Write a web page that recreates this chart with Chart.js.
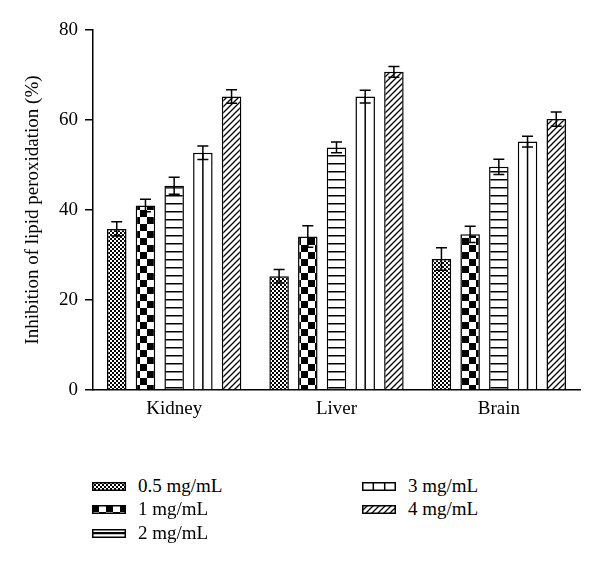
<!DOCTYPE html>
<html>
<head>
<meta charset="utf-8">
<title>Inhibition of lipid peroxidation</title>
<script src="https://cdn.jsdelivr.net/npm/chart.js@4.4.0/dist/chart.umd.min.js"></script>
<style>
  html, body { margin: 0; padding: 0; background: #fff; }
  #wrap { position: relative; width: 600px; height: 568px; font-family: 'Liberation Serif', 'DejaVu Serif', serif; }
  #chart { position: absolute; left: 0; top: 0; }
  .leg { position: absolute; display: flex; align-items: center; height: 24px; font-size: 19px; color: #000; white-space: nowrap; }
  .leg canvas { display: block; }
</style>
</head>
<body>
<div id="wrap">
  <canvas id="chart" width="600" height="440"></canvas>
</div>
<script>
// Data
const organs = ['Kidney', 'Liver', 'Brain'];
const doseLabels = ['0.5 mg/mL', '1 mg/mL', '2 mg/mL', '3 mg/mL', '4 mg/mL'];

const dose05 = [35.8, 25.3, 29.1];
const dose1 = [41.0, 34.1, 34.6];
const dose2 = [45.4, 53.9, 49.6];
const dose3 = [52.7, 65.2, 55.2];
const dose4 = [65.2, 70.7, 60.2];

const err05 = [1.6, 1.5, 2.5];
const err1 = [1.4, 2.4, 1.8];
const err2 = [1.9, 1.2, 1.7];
const err3 = [1.5, 1.4, 1.2];
const err4 = [1.5, 1.2, 1.6];

const yTicks = [0, 20, 40, 60, 80];

// Fill patterns (black & white hatching)
function makePattern(w, h, draw) {
  const c = document.createElement('canvas');
  c.width = w; c.height = h;
  const g = c.getContext('2d');
  g.fillStyle = '#fff';
  g.fillRect(0, 0, w, h);
  g.fillStyle = '#000';
  g.strokeStyle = '#000';
  draw(g, w, h);
  return g.createPattern(c, 'repeat');
}

const patterns = [
  makePattern(4, 4, g => { g.fillRect(0, 0, 2, 2); g.fillRect(2, 2, 2, 2); }),
  makePattern(14, 14, g => { g.fillRect(0, 0, 7, 7); g.fillRect(7, 7, 7, 7); }),
  makePattern(8, 8, g => { g.fillRect(0, 3, 8, 1.5); }),
  '#fff',
  makePattern(6, 6, g => {
    g.lineWidth = 1.3;
    g.beginPath();
    g.moveTo(0, 6); g.lineTo(6, 0);
    g.moveTo(-1, 1); g.lineTo(1, -1);
    g.moveTo(5, 7); g.lineTo(7, 5);
    g.stroke();
  })
];

const series = [dose05, dose1, dose2, dose3, dose4];
const errors = [err05, err1, err2, err3, err4];

// Error bars + the centre line of the 3 mg/mL bars
const errorBars = {
  id: 'errorBars',
  afterDatasetsDraw(chart) {
    const ctx = chart.ctx;
    const y = chart.scales.y;
    ctx.save();
    ctx.strokeStyle = '#000';
    ctx.lineWidth = 1.5;
    chart.data.datasets.forEach((ds, di) => {
      const meta = chart.getDatasetMeta(di);
      meta.data.forEach((bar, i) => {
        if (ds.midLine) {
          ctx.beginPath();
          ctx.moveTo(bar.x, bar.base);
          ctx.lineTo(bar.x, bar.y);
          ctx.stroke();
        }
        const hi = y.getPixelForValue(ds.data[i] + ds.errors[i]);
        const lo = y.getPixelForValue(ds.data[i] - ds.errors[i]);
        const cap = 5.5;
        ctx.beginPath();
        ctx.moveTo(bar.x, hi); ctx.lineTo(bar.x, lo);
        ctx.moveTo(bar.x - cap, hi); ctx.lineTo(bar.x + cap, hi);
        ctx.moveTo(bar.x - cap, lo); ctx.lineTo(bar.x + cap, lo);
        ctx.stroke();
      });
    });
    ctx.restore();
  }
};

const serif = "'Liberation Serif', 'DejaVu Serif', serif";

new Chart(document.getElementById('chart'), {
  type: 'bar',
  data: {
    labels: organs,
    datasets: series.map((vals, i) => ({
      label: doseLabels[i],
      data: vals,
      errors: errors[i],
      midLine: i === 3,
      backgroundColor: patterns[i],
      borderColor: '#000',
      borderWidth: 1.5,
      barPercentage: 0.68,
      categoryPercentage: 0.884
    }))
  },
  options: {
    responsive: false,
    animation: false,
    layout: { padding: { left: 0, right: 20, top: 30, bottom: 0 } },
    plugins: {
      legend: { display: false },
      tooltip: { enabled: false }
    },
    scales: {
      x: {
        grid: { display: false },
        border: { display: true, color: '#000', width: 1.5 },
        ticks: { color: '#000', padding: 0, font: { family: serif, size: 19 } },
        afterFit: s => { s.height = 50; }
      },
      y: {
        min: 0,
        max: 80,
        afterBuildTicks: s => { s.ticks = yTicks.map(v => ({ value: v })); },
        grid: { drawOnChartArea: false, drawTicks: true, tickLength: 8, color: '#000', lineWidth: 1.5 },
        border: { display: true, color: '#000', width: 1.5 },
        ticks: { color: '#000', padding: 7, font: { family: serif, size: 19 } },
        title: {
          display: true,
          text: 'Inhibition of lipid peroxidation (%)',
          color: '#000',
          font: { family: serif, size: 19 },
          padding: { top: 22, bottom: 0 }
        },
        afterFit: s => { s.width = 93; }
      }
    }
  },
  plugins: [errorBars]
});

// Two-column legend below the chart
const legendSpots = [
  { left: 92, top: 486 }, { left: 92, top: 509 }, { left: 92, top: 533 },
  { left: 362, top: 486 }, { left: 362, top: 509 }
];
const wrap = document.getElementById('wrap');
doseLabels.forEach((lab, i) => {
  const item = document.createElement('div');
  item.className = 'leg';
  item.style.left = legendSpots[i].left + 'px';
  item.style.top = (legendSpots[i].top - 12) + 'px';
  const box = document.createElement('canvas');
  box.width = 34; box.height = 9;
  const g = box.getContext('2d');
  g.fillStyle = patterns[i];
  g.fillRect(0, 0, 34, 9);
  g.strokeStyle = '#000';
  g.lineWidth = 1.5;
  g.beginPath();
  if (i === 2) { g.moveTo(0, 4.5); g.lineTo(34, 4.5); }
  if (i === 3) { g.moveTo(11.3, 0); g.lineTo(11.3, 9); g.moveTo(22.7, 0); g.lineTo(22.7, 9); }
  g.stroke();
  g.strokeRect(0.75, 0.75, 32.5, 7.5);
  const txt = document.createElement('span');
  txt.textContent = lab;
  txt.style.marginLeft = '12px';
  item.appendChild(box);
  item.appendChild(txt);
  wrap.appendChild(item);
});
</script>
</body>
</html>
